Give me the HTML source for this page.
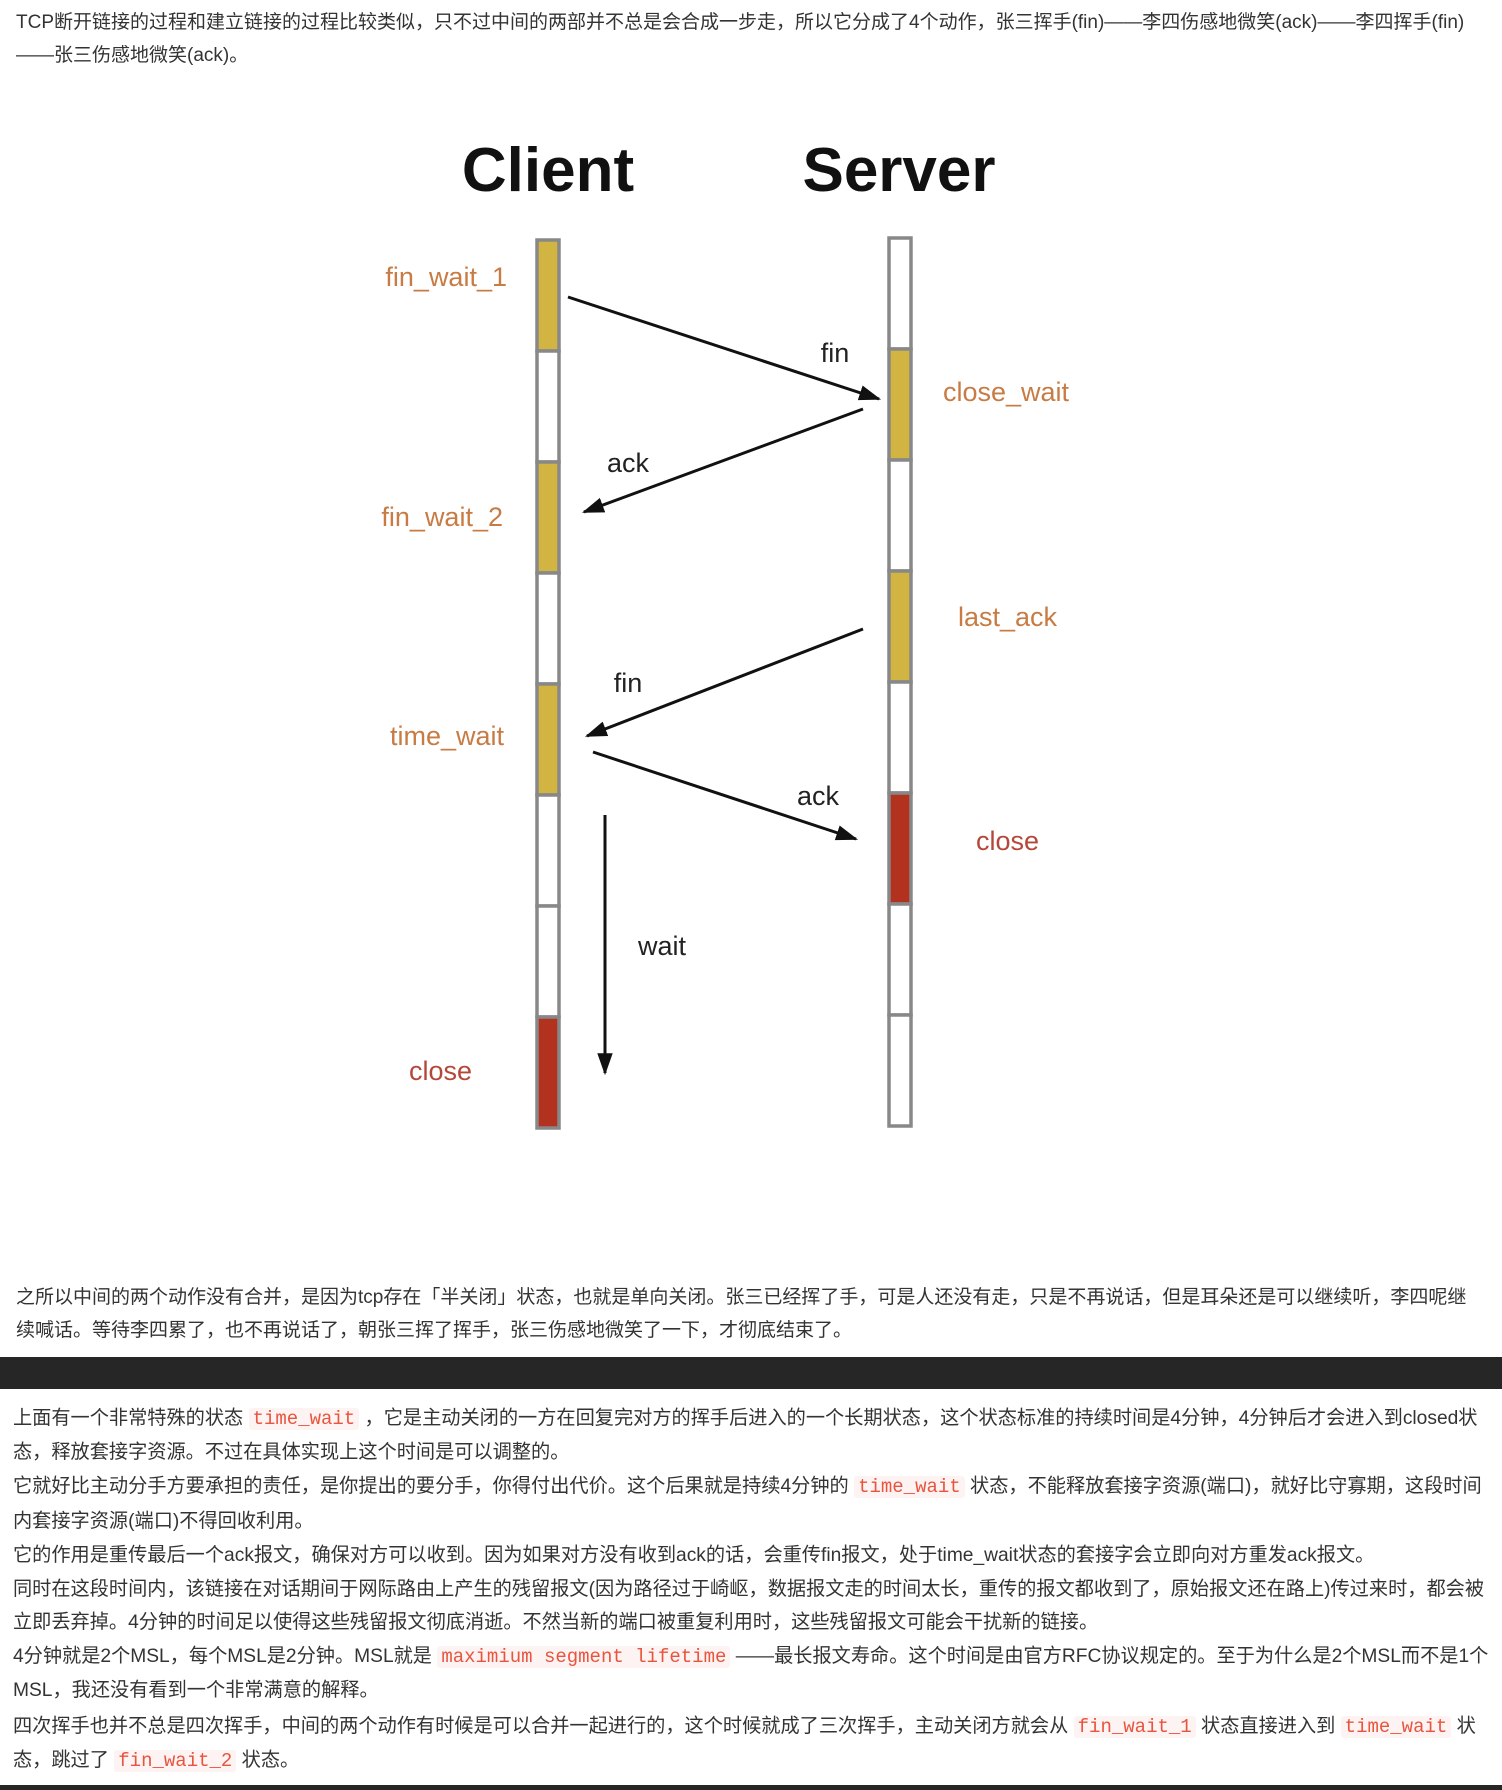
<!DOCTYPE html>
<html><head><meta charset="utf-8">
<style>
html,body{margin:0;padding:0;background:#fff;}
body{width:1502px;height:1790px;position:relative;overflow:hidden;font-family:"Liberation Sans","Noto Sans CJK SC",sans-serif;color:#333;}
.l{position:absolute;left:16px;font-size:19px;white-space:nowrap;line-height:24px;}
.p{position:absolute;left:13px;font-size:19.2px;white-space:nowrap;line-height:24px;}
code{font-family:"Liberation Mono",monospace;color:#e8553f;background:#fdf3f2;padding:0 4px;border-radius:3px;font-size:19px;}
.band{position:absolute;left:0;width:1502px;background:#262626;}
</style></head><body>
<div class="l" style="top:11px">TCP断开链接的过程和建立链接的过程比较类似，只不过中间的两部并不总是会合成一步走，所以它分成了4个动作，张三挥手(fin)——李四伤感地微笑(ack)——李四挥手(fin)</div>
<div class="l" style="top:44px">——张三伤感地微笑(ack)。</div>

<svg style="position:absolute;left:0;top:0" width="1502" height="1250" xmlns="http://www.w3.org/2000/svg">
<defs>
<marker id="b" viewBox="0 0 10 10" refX="9" refY="5" markerWidth="22" markerHeight="22" orient="auto" markerUnits="userSpaceOnUse"><path d="M0,1.5 L10,5 L0,8.5 z" fill="#111"/></marker></defs>
<text x="548" y="191" font-family="Liberation Sans" font-weight="bold" font-size="62" text-anchor="middle" fill="#111">Client</text>
<text x="899" y="191" font-family="Liberation Sans" font-weight="bold" font-size="62" text-anchor="middle" fill="#111">Server</text>
<g stroke="#888" stroke-width="3.5">
<rect x="537" y="240" width="22" height="111" fill="#d1b441"/>
<rect x="537" y="351" width="22" height="111" fill="#fff"/>
<rect x="537" y="462" width="22" height="111" fill="#d1b441"/>
<rect x="537" y="573" width="22" height="111" fill="#fff"/>
<rect x="537" y="684" width="22" height="111" fill="#d1b441"/>
<rect x="537" y="795" width="22" height="111" fill="#fff"/>
<rect x="537" y="906" width="22" height="111" fill="#fff"/>
<rect x="537" y="1017" width="22" height="111" fill="#b3311f"/>
<rect x="889" y="238" width="22" height="111" fill="#fff"/>
<rect x="889" y="349" width="22" height="111" fill="#d1b441"/>
<rect x="889" y="460" width="22" height="111" fill="#fff"/>
<rect x="889" y="571" width="22" height="111" fill="#d1b441"/>
<rect x="889" y="682" width="22" height="111" fill="#fff"/>
<rect x="889" y="793" width="22" height="111" fill="#b3311f"/>
<rect x="889" y="904" width="22" height="111" fill="#fff"/>
<rect x="889" y="1015" width="22" height="111" fill="#fff"/>
</g>
<g stroke="#111" stroke-width="3" fill="none" marker-end="url(#b)">
<line x1="568" y1="297" x2="879" y2="399"/>
<line x1="863" y1="409" x2="584" y2="512"/>
<line x1="863" y1="629" x2="587" y2="736"/>
<line x1="593" y1="752" x2="856" y2="839"/>
<line x1="605" y1="815" x2="605" y2="1073"/>
</g>
<g font-family="Liberation Sans" font-size="27" fill="#222">
<text x="835" y="362" text-anchor="middle">fin</text>
<text x="628" y="472" text-anchor="middle">ack</text>
<text x="628" y="692" text-anchor="middle">fin</text>
<text x="818" y="805" text-anchor="middle">ack</text>
<text x="662" y="955" text-anchor="middle">wait</text>
</g>
<g font-family="Liberation Sans" font-size="27" fill="#c87b43">
<text x="507" y="286" text-anchor="end">fin_wait_1</text>
<text x="503" y="526" text-anchor="end">fin_wait_2</text>
<text x="504" y="745" text-anchor="end">time_wait</text>
<text x="943" y="401">close_wait</text>
<text x="958" y="626">last_ack</text>
</g>
<g font-family="Liberation Sans" font-size="27" fill="#b5473a">
<text x="472" y="1080" text-anchor="end">close</text>
<text x="976" y="850">close</text>
</g>
</svg>

<div class="l" style="top:1286px">之所以中间的两个动作没有合并，是因为tcp存在「半关闭」状态，也就是单向关闭。张三已经挥了手，可是人还没有走，只是不再说话，但是耳朵还是可以继续听，李四呢继</div>
<div class="l" style="top:1319px">续喊话。等待李四累了，也不再说话了，朝张三挥了挥手，张三伤感地微笑了一下，才彻底结束了。</div>
<div class="band" style="top:1357px;height:32px"></div>
<div class="p" style="top:1407px">上面有一个非常特殊的状态 <code>time_wait</code> ，它是主动关闭的一方在回复完对方的挥手后进入的一个长期状态，这个状态标准的持续时间是4分钟，4分钟后才会进入到closed状</div>
<div class="p" style="top:1441px">态，释放套接字资源。不过在具体实现上这个时间是可以调整的。</div>
<div class="p" style="top:1475px">它就好比主动分手方要承担的责任，是你提出的要分手，你得付出代价。这个后果就是持续4分钟的 <code>time_wait</code> 状态，不能释放套接字资源(端口)，就好比守寡期，这段时间</div>
<div class="p" style="top:1510px">内套接字资源(端口)不得回收利用。</div>
<div class="p" style="top:1544px">它的作用是重传最后一个ack报文，确保对方可以收到。因为如果对方没有收到ack的话，会重传fin报文，处于time_wait状态的套接字会立即向对方重发ack报文。</div>
<div class="p" style="top:1578px">同时在这段时间内，该链接在对话期间于网际路由上产生的残留报文(因为路径过于崎岖，数据报文走的时间太长，重传的报文都收到了，原始报文还在路上)传过来时，都会被</div>
<div class="p" style="top:1611px">立即丢弃掉。4分钟的时间足以使得这些残留报文彻底消逝。不然当新的端口被重复利用时，这些残留报文可能会干扰新的链接。</div>
<div class="p" style="top:1645px">4分钟就是2个MSL，每个MSL是2分钟。MSL就是 <code>maximium segment lifetime</code> ——最长报文寿命。这个时间是由官方RFC协议规定的。至于为什么是2个MSL而不是1个</div>
<div class="p" style="top:1679px">MSL，我还没有看到一个非常满意的解释。</div>
<div class="p" style="top:1715px">四次挥手也并不总是四次挥手，中间的两个动作有时候是可以合并一起进行的，这个时候就成了三次挥手，主动关闭方就会从 <code>fin_wait_1</code> 状态直接进入到 <code>time_wait</code> 状</div>
<div class="p" style="top:1749px">态，跳过了 <code>fin_wait_2</code> 状态。</div>
<div class="band" style="top:1785px;height:5px"></div>
</body></html>
